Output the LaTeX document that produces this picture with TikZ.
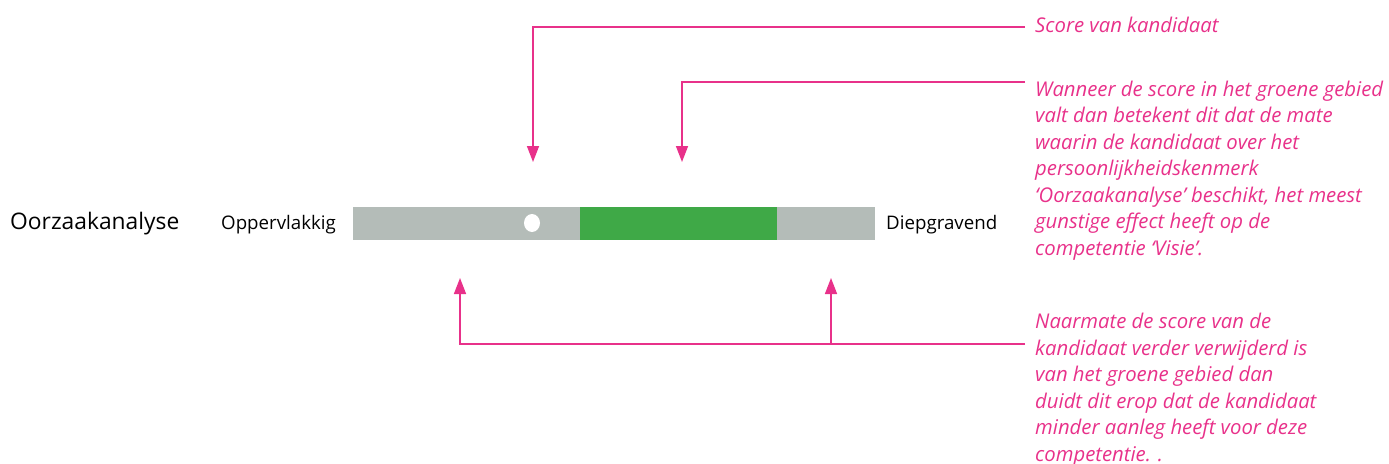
\documentclass[tikz,border=0pt]{standalone}
\usepackage{fontspec}
\setmainfont{Open Sans}
\usetikzlibrary{arrows.meta,shapes.geometric}
\definecolor{magpink}{HTML}{E8318A}
\definecolor{bargray}{HTML}{B4BCB8}
\definecolor{bargreen}{HTML}{3FA947}
\begin{document}
\begin{tikzpicture}[x=1pt,y=-1pt,
  conn/.style={draw=magpink, line width=1.5pt, -{Triangle[width=12pt,length=16pt]}},
  note/.style={text=magpink, inner sep=0pt, align=left, font=\fontsize{20.3}{26.5}\selectfont\itshape},
  lbl/.style={inner sep=0pt, font=\fontsize{18.7}{22}\selectfont},
  barpart/.style={inner sep=0pt, minimum height=33pt, anchor=north west}]
\useasboundingbox (0,0) rectangle (1389,463);
% bar
\node (bar) [barpart, fill=bargray, minimum width=522pt] at (353,207) {};
\node (green) [barpart, fill=bargreen, minimum width=197pt] at (580,207) {};
\node (dot) [ellipse, fill=white, inner sep=0pt, minimum width=16pt, minimum height=18pt] at (532,223) {};
% labels
\node (title) [anchor=base west, inner sep=0pt, font=\fontsize{22.8}{27}\selectfont] at (10,229) {Oorzaakanalyse};
\node (low) [lbl, anchor=base west] at (221,229) {Oppervlakkig};
\node (high) [lbl, anchor=base west] at (886,229) {Diepgravend};
% notes (base = baseline of last line)
\node (score) [note, anchor=base west] at (1035,32) {Score van kandidaat};
\node (green note) [note, anchor=base west] at (1035,255) {Wanneer de score in het groene gebied\\valt dan betekent dit dat de mate\\waarin de kandidaat over het\\persoonlijkheidskenmerk\\`Oorzaakanalyse' beschikt, het meest\\gunstige effect heeft op de\\competentie `Visie'.};
\node (dist note) [note, anchor=base west] at (1035,461) {Naarmate de score van de\\kandidaat verder verwijderd is\\van het groene gebied dan\\duidt dit erop dat de kandidaat\\minder aanleg heeft voor deze\\competentie. .};
% targets
\coordinate (t1) at (533,162);
\coordinate (t2) at (682,162);
\coordinate (b1) at (460,278);
\coordinate (b2) at (831,278);
\coordinate (j) at (831,344);
% connectors
\draw[conn] (score.base west) ++(-10,-5) -| (t1);
\draw[conn] (green note.base west) ++(-10,-173) -| (t2);
\draw[conn] (dist note.base west) ++(-10,-117) -| (b1);
\draw[conn] (j) -- (b2);
\end{tikzpicture}
\end{document}
